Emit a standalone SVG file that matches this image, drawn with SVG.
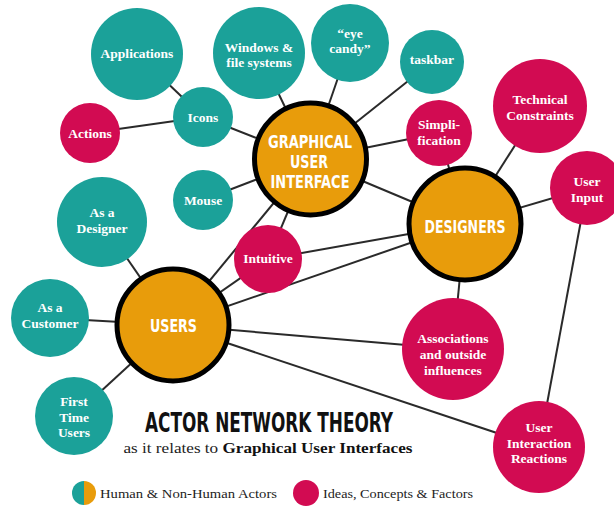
<svg xmlns="http://www.w3.org/2000/svg" width="614" height="506" viewBox="0 0 614 506">
<style>
.teal{fill:#1ba199}
.mag{fill:#d20b52}
.hub{fill:#e89c0b;stroke:#000;stroke-width:5}
.lbl{font-family:"Liberation Serif","DejaVu Serif",serif;font-weight:bold;font-size:13.5px;fill:#fff;text-anchor:middle}
.big{font-family:"DejaVu Sans Condensed","Liberation Sans Narrow","Liberation Sans",sans-serif;font-weight:bold;font-size:17px;fill:#fff;text-anchor:middle}
.edge line{stroke:#2a2a2a;stroke-width:2}
.leg{font-family:"Liberation Serif","DejaVu Serif",serif;font-size:13.5px;fill:#222}
</style>
<rect width="614" height="506" fill="#fff"/>
<g class="edge" id="connectors">
<line x1="137" y1="54" x2="203" y2="117"/>
<line x1="90" y1="133" x2="203" y2="117"/>
<line x1="203" y1="117" x2="310" y2="159"/>
<line x1="259" y1="53" x2="310" y2="159"/>
<line x1="350" y1="43" x2="310" y2="159"/>
<line x1="432" y1="62" x2="310" y2="159"/>
<line x1="439" y1="133" x2="310" y2="159"/>
<line x1="203" y1="200" x2="310" y2="159"/>
<line x1="268" y1="259" x2="310" y2="159"/>
<line x1="173" y1="325" x2="310" y2="159"/>
<line x1="310" y1="159" x2="465" y2="224"/>
<line x1="439" y1="133" x2="465" y2="224"/>
<line x1="540" y1="106" x2="465" y2="224"/>
<line x1="587" y1="188" x2="465" y2="224"/>
<line x1="465" y1="224" x2="453" y2="349"/>
<line x1="268" y1="259" x2="465" y2="224"/>
<line x1="173" y1="325" x2="465" y2="224"/>
<line x1="173" y1="325" x2="268" y2="259"/>
<line x1="173" y1="325" x2="453" y2="349"/>
<line x1="173" y1="325" x2="539" y2="447"/>
<line x1="587" y1="188" x2="539" y2="447"/>
<line x1="102" y1="222" x2="173" y2="325"/>
<line x1="50" y1="318" x2="173" y2="325"/>
<line x1="74" y1="416" x2="173" y2="325"/>
</g>
<g id="applications"><circle class="teal" cx="137" cy="54" r="46"/><text class="lbl" x="137" y="58">Applications</text></g>
<g id="windows"><circle class="teal" cx="259" cy="53" r="46"/><text class="lbl" x="259" y="52">Windows &amp;</text><text class="lbl" x="259" y="67">file systems</text></g>
<g id="eyecandy"><circle class="teal" cx="350" cy="43" r="39"/><text class="lbl" x="350" y="38">“eye</text><text class="lbl" x="350" y="53">candy”</text></g>
<g id="taskbar"><circle class="teal" cx="432" cy="62" r="32"/><text class="lbl" x="432" y="64">taskbar</text></g>
<g id="icons"><circle class="teal" cx="203" cy="117" r="30"/><text class="lbl" x="203" y="122">Icons</text></g>
<g id="actions"><circle class="mag" cx="90" cy="133" r="30"/><text class="lbl" x="90" y="138">Actions</text></g>
<g id="simplification"><circle class="mag" cx="439" cy="133" r="33"/><text class="lbl" x="439" y="129">Simpli-</text><text class="lbl" x="439" y="145">fication</text></g>
<g id="technical"><circle class="mag" cx="540" cy="106" r="47"/><text class="lbl" x="540" y="104">Technical</text><text class="lbl" x="540" y="120">Constraints</text></g>
<g id="mouse"><circle class="teal" cx="203" cy="200" r="30"/><text class="lbl" x="203" y="205">Mouse</text></g>
<g id="designer"><circle class="teal" cx="102" cy="222" r="45"/><text class="lbl" x="102" y="217">As a</text><text class="lbl" x="102" y="233">Designer</text></g>
<g id="intuitive"><circle class="mag" cx="268" cy="259" r="34"/><text class="lbl" x="268" y="263">Intuitive</text></g>
<g id="userinput"><circle class="mag" cx="587" cy="188" r="37"/><text class="lbl" x="587" y="186">User</text><text class="lbl" x="587" y="202">Input</text></g>
<g id="customer"><circle class="teal" cx="50" cy="318" r="39"/><text class="lbl" x="50" y="312">As a</text><text class="lbl" x="50" y="328">Customer</text></g>
<g id="firsttime"><circle class="teal" cx="74" cy="416" r="39"/><text class="lbl" x="74" y="406">First</text><text class="lbl" x="74" y="422">Time</text><text class="lbl" x="74" y="437">Users</text></g>
<g id="associations"><circle class="mag" cx="453" cy="349" r="51"/><text class="lbl" x="453" y="343">Associations</text><text class="lbl" x="453" y="359">and outside</text><text class="lbl" x="453" y="375">influences</text></g>
<g id="reactions"><circle class="mag" cx="539" cy="447" r="46"/><text class="lbl" x="539" y="432">User</text><text class="lbl" x="539" y="448">Interaction</text><text class="lbl" x="539" y="463">Reactions</text></g>
<g id="gui"><circle class="hub" cx="310.5" cy="159" r="56"/>
<text class="big" x="310" y="147.5" textLength="84" lengthAdjust="spacingAndGlyphs">GRAPHICAL</text>
<text class="big" x="309" y="167.5" textLength="38" lengthAdjust="spacingAndGlyphs">USER</text>
<text class="big" x="310" y="187.5" textLength="79" lengthAdjust="spacingAndGlyphs">INTERFACE</text></g>
<g id="designers"><circle class="hub" cx="465" cy="224" r="56"/><text class="big" x="465" y="233" font-size="20" textLength="81" lengthAdjust="spacingAndGlyphs">DESIGNERS</text></g>
<g id="users"><circle class="hub" cx="173" cy="325" r="56"/><text class="big" x="173.5" y="332" font-size="20" textLength="47" lengthAdjust="spacingAndGlyphs">USERS</text></g>
<g id="title">
<text x="269" y="432" font-family="'DejaVu Sans Condensed','Liberation Sans Narrow',sans-serif" font-weight="bold" font-size="26" fill="#111" text-anchor="middle" textLength="248" lengthAdjust="spacingAndGlyphs">ACTOR NETWORK THEORY</text>
<text x="268" y="453" font-family="'Liberation Serif','DejaVu Serif',serif" font-size="14.5" fill="#222" text-anchor="middle" textLength="289" lengthAdjust="spacingAndGlyphs">as it relates to <tspan font-weight="bold" fill="#111">Graphical User Interfaces</tspan></text>
</g>
<g id="legend">
<path d="M84 481 A12 12 0 0 0 84 505 Z" class="teal"/>
<path d="M84 481 A12 12 0 0 1 84 505 Z" fill="#e89c0b"/>
<text class="leg" x="100" y="498" textLength="177" lengthAdjust="spacingAndGlyphs">Human &amp; Non-Human Actors</text>
<circle class="mag" cx="306" cy="493" r="13"/>
<text class="leg" x="323" y="498" textLength="150" lengthAdjust="spacingAndGlyphs">Ideas, Concepts &amp; Factors</text>
</g>
</svg>
